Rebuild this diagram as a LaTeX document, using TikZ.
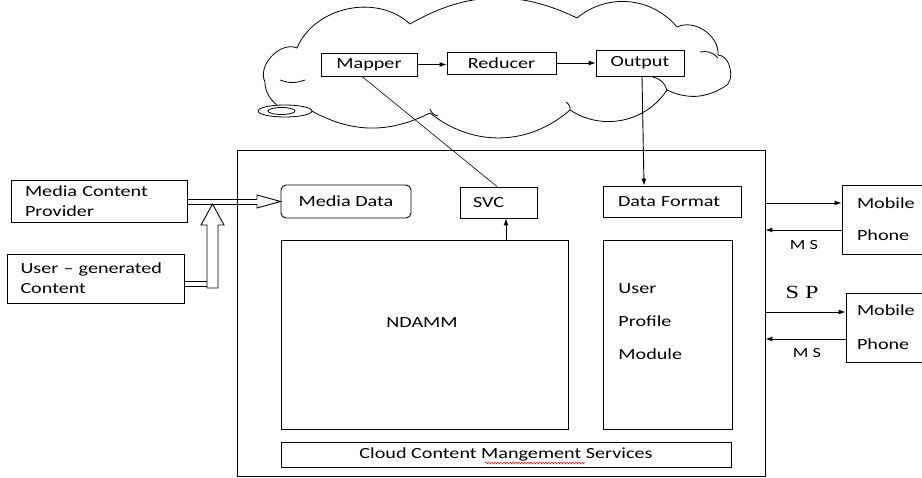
\documentclass[tikz,border=0pt]{standalone}
\usepackage{fontspec}
\setmainfont{Carlito}[FakeStretch=1.3]
\newfontfamily\spfont{Liberation Serif}[FakeStretch=1.3]
\usetikzlibrary{arrows.meta,decorations.pathmorphing}

\begin{document}
\begin{tikzpicture}[x=1pt,y=-1pt,line width=0.9pt,
    box/.style={draw,rectangle,inner sep=0pt},
    tip/.style={-{Latex[length=7pt,width=5pt]}}]
                        \useasboundingbox (0,0) rectangle (922,478);
                        {\fontsize{15.5pt}{18pt}\selectfont

                        % Drawing the cloud
                        \draw [line width=0.8pt] (297,48) to[bend left=55] (410,24) to[bend left=28] (577,18)
                            to[bend left=45] (677,27) to[bend left=60] (718,55) to[bend left=80] (724,87)
                            to[bend left=28] (667,90) to[bend left=45] (570,110) to[bend left=40] (430,113)
                            to[bend left=28] (310,110) to[bend left=60] (265,82) to[bend left=70] (297,48) -- cycle;%
                        \draw [line width=0.8pt] (280,80) to[bend right=20] (305,80);%
                        \draw [line width=0.8pt] (653,77) to[bend left=30] (667,90);%
                        \draw [line width=0.8pt] (700,52) to[bend left=30] (718,58);%
                        \draw [line width=0.8pt] (430,109) to[bend right=30] (438,116);%
                        \draw [line width=0.8pt] (566,102) to[bend left=30] (570,110);%
                        \draw [line width=0.8pt, fill=white] (285,111) ellipse (27 and 6);%
                        \draw [line width=0.8pt] (281.5,111) ellipse (13.5 and 3.5);%

                        % Marking the map reduce boxes
                        \node [box, minimum width=96pt, minimum height=23pt] (mapper) at (369,64.5) {\raisebox{-3pt}{Mapper}};%
                        \node [box, minimum width=109pt, minimum height=22pt] (reducer) at (501.5,63) {\raisebox{-3pt}{Reducer}};%
                        \node [box, minimum width=88pt, minimum height=26pt] (output) at (640,63) {Output};%
                        \draw [tip] (mapper.east) -- (mapper.east -| reducer.west);%
                        \draw [tip] (reducer.east) -- (reducer.east -| output.west);%

                        % Marking the main box and its parts
                        \node [box, minimum width=528pt, minimum height=326pt] (main) at (501,313) {};%
                        \node [box, rounded corners=5pt, minimum width=130pt, minimum height=33pt] (mdata) at (346,201.5) {Media Data};%
                        \node [box, minimum width=77pt, text width=51pt, align=left, minimum height=31pt] (svc) at (498.5,202.5) {SVC};%
                        \node [box, minimum width=138pt, text width=108pt, align=left, minimum height=31pt] (dformat) at (672,201.5) {Data Format};%
                        \node [box, minimum width=287pt, minimum height=189pt] (ndamm) at (424.5,334.5) {};%
                        \node (ndammtext) at (422,323) {NDAMM};%
                        \node [box, minimum width=129pt, minimum height=189pt] (upm) at (667.5,334.5) {};%
                        \node [anchor=west, align=left, inner sep=0pt] (upmtext) at (618,322) {User\\[15pt]Profile\\[15pt]Module};%
                        \node [box, minimum width=450pt, minimum height=25pt] (ccms) at (506,454.5) {Cloud Content Mangement Services};%
                        \draw [red, line width=0.5pt, decorate, decoration={snake, amplitude=0.8pt, segment length=3pt}] (485,463) -- (585,463);%

                        % Drawing lines from the cloud
                        \draw [line width=0.6pt] (mapper.south -| 362,0) -- (svc.north -| 497,0);%
                        \draw [tip] (output.south -| 642,0) -- (dformat.north -| 644,0);%
                        \draw [tip] (ndamm.north -| 506,0) -- (svc.south -| 506,0);%

                        % Marking the sources
                        \node [box, minimum width=176pt, text width=148pt, align=left, minimum height=42pt] (mcp) at (99,201) {Media Content\\[2pt]Provider};%
                        \node [box, minimum width=177pt, text width=150pt, align=left, minimum height=49pt] (ugc) at (95.5,278.5) {User -- generated\\[2pt]Content};%

                        % Drawing hollow arrows
                        \draw (mcp.east |- 0,199) -- (257,199);%
                        \draw (mcp.east |- 0,204) -- (257,204);%
                        \draw [fill=white] (257,199) -- (257,195) -- (mdata.west) -- (257,208) -- (257,204);%
                        \draw [fill=white] (207,288) -- (207,225) -- (201,225) -- (212.5,204) -- (224,225) -- (218,225) -- (218,288) -- cycle;%
                        \draw (ugc.east |- 0,281) -- (207,281);%
                        \draw (ugc.east |- 0,286) -- (207,286);%

                        % Marking the phones
                        \node [box, minimum width=88pt, text width=58pt, align=left, minimum height=69pt] (mob1) at (886,219.5) {Mobile\\[14pt]Phone};%
                        \node [box, minimum width=84pt, text width=62pt, align=left, minimum height=69pt] (mob2) at (888,327.5) {Mobile\\[16pt]Phone};%
                        \draw [tip] (main.east |- 0,203) -- (mob1.west |- 0,203);%
                        \draw [tip] (mob1.west |- 0,230) -- (main.east |- 0,230);%
                        \draw [tip] (main.east |- 0,312) -- (mob2.west |- 0,312);%
                        \draw [tip] (mob2.west |- 0,339) -- (main.east |- 0,339);%
                        \node [font=\fontsize{14pt}{16pt}\selectfont] (ms1) at (804,245) {M S};%
                        \node (sp) at (802,292) {\spfont\fontsize{18.6pt}{22pt}\selectfont S P};%
                        \node [font=\fontsize{14pt}{16pt}\selectfont] (ms2) at (807,353) {M S};%
                        }
\end{tikzpicture}
\end{document}
